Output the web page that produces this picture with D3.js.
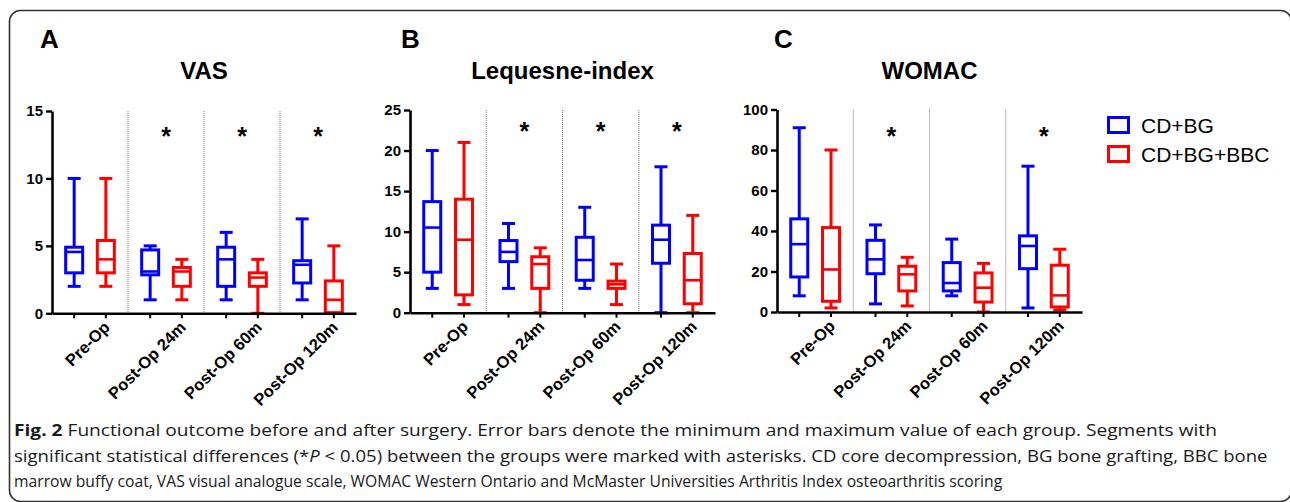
<!DOCTYPE html>
<html>
<head>
<meta charset="utf-8">
<script src="https://cdn.jsdelivr.net/npm/d3@7"></script>
<style>
  html, body { margin: 0; padding: 0; background: #fff; }
  svg { display: block; }
</style>
</head>
<body>
<svg id="chart" width="1290" height="502"></svg>
<script>
// ---------------- DATA ----------------
const categories = ["Pre-Op", "Post-Op 24m", "Post-Op 60m", "Post-Op 120m"];
const groups = ["CD+BG", "CD+BG+BBC"];
// each entry: [min, q1, median, q3, max]
const vasBlue = [[2, 3, 4.55, 4.9, 10], [1, 2.85, 3.1, 4.7, 5], [1, 2, 4, 4.9, 6], [1, 2.25, 3.6, 3.9, 7]];
const vasRed = [[2, 3, 4, 5.4, 10], [1, 2, 3.1, 3.4, 4], [0, 2, 2.65, 3, 4], [0, 0.05, 1, 2.4, 5]];
const lequesneBlue = [[3, 5, 10.5, 13.7, 20], [3, 6.3, 7.5, 8.9, 11], [3, 4, 6.5, 9.3, 13], [0, 6.1, 9, 10.8, 18]];
const lequesneRed = [[1, 2.2, 9, 14, 21], [0, 3, 6, 6.9, 8], [1, 3, 3.5, 3.9, 6], [0, 1.1, 4, 7.3, 12]];
const womacBlue = [[8, 17.3, 33.5, 46, 91], [4, 18.9, 26, 35.4, 43], [8, 10.4, 14.3, 24.4, 36], [2, 21.4, 32.6, 37.6, 72]];
const womacRed = [[2, 5.3, 21, 41.7, 80], [3, 10.4, 18.6, 22.6, 27], [0, 4.9, 12, 19.3, 24], [1, 2.5, 8.2, 23.1, 31]];
const vasTicks = [0, 5, 10, 15];
const lequesneTicks = [0, 5, 10, 15, 20, 25];
const womacTicks = [0, 20, 40, 60, 80, 100];
// significance markers per category and the level at which they are drawn
const vasStars = [false, true, true, true];
const lequesneStars = [false, true, true, true];
const womacStars = [false, true, false, true];
const vasStarLevel = 13.5;
const lequesneStarLevel = 23;
const womacStarLevel = 89.5;
const panelLetters = ["A", "B", "C"];
const panelTitles = ["VAS", "Lequesne-index", "WOMAC"];

// ---------------- LAYOUT / STYLE ----------------
const colors = { "CD+BG": "#0000ff", "CD+BG+BBC": "#ff0000" };
const FONT = "'Liberation Sans', Arial, Helvetica, sans-serif";
const panels = [
  { letter: panelLetters[0], title: panelTitles[0], blue: vasBlue, red: vasRed, ticks: vasTicks, stars: vasStars, starLevel: vasStarLevel,
    x0: 52, x1: 356, yTop: 111, yBot: 313.3, letterX: 40 },
  { letter: panelLetters[1], title: panelTitles[1], blue: lequesneBlue, red: lequesneRed, ticks: lequesneTicks, stars: lequesneStars, starLevel: lequesneStarLevel,
    x0: 410, x1: 715, yTop: 110, yBot: 312.7, letterX: 401 },
  { letter: panelLetters[2], title: panelTitles[2], blue: womacBlue, red: womacRed, ticks: womacTicks, stars: womacStars, starLevel: womacStarLevel,
    x0: 777, x1: 1082, yTop: 109.5, yBot: 312, letterX: 774 }
];

const svg = d3.select("#chart");

// frame
svg.append("rect")
  .attr("x", 9.5).attr("y", 10.5)
  .attr("width", 1282).attr("height", 491)
  .attr("rx", 11).attr("ry", 11)
  .attr("fill", "none").attr("stroke", "#333").attr("stroke-width", 1.6);

const boxW = 17, capW = 13, sw = 3;

panels.forEach(p => {
  const g = svg.append("g");
  const x = d3.scaleBand().domain(categories).range([p.x0, p.x1]).padding(0);
  const xg = d3.scalePoint().domain(groups).range([0, x.bandwidth()]).padding(0.7);
  const y = d3.scaleLinear().domain([0, d3.max(p.ticks)]).range([p.yBot, p.yTop]);

  // panel letter & title
  g.append("text").attr("x", p.letterX).attr("y", 48)
    .attr("font-family", FONT).attr("font-weight", "bold").attr("font-size", 26)
    .text(p.letter);
  g.append("text").attr("x", (p.x0 + p.x1) / 2).attr("y", 79)
    .attr("text-anchor", "middle")
    .attr("font-family", FONT).attr("font-weight", "bold").attr("font-size", 24)
    .text(p.title);

  // dotted dividers
  g.selectAll("line.div").data(categories.slice(1)).join("line")
    .attr("x1", d => x(d)).attr("x2", d => x(d))
    .attr("y1", y(d3.max(p.ticks))).attr("y2", p.yBot)
    .attr("stroke", "#777").attr("stroke-width", 1).attr("stroke-dasharray", "1,1");

  // boxes
  const series = [{ key: groups[0], vals: p.blue }, { key: groups[1], vals: p.red }];
  series.forEach(s => {
    const col = colors[s.key];
    const bg = g.append("g").attr("stroke", col).attr("fill", "none").attr("stroke-width", sw);
    const items = s.vals.map((v, i) => ({ cat: categories[i], v }));
    const cx = d => x(d.cat) + xg(s.key);
    bg.selectAll("line.wlo").data(items).join("line")
      .attr("x1", cx).attr("x2", cx).attr("y1", d => y(d.v[0])).attr("y2", d => y(d.v[1]));
    bg.selectAll("line.whi").data(items).join("line")
      .attr("x1", cx).attr("x2", cx).attr("y1", d => y(d.v[3])).attr("y2", d => y(d.v[4]));
    bg.selectAll("line.cmin").data(items).join("line")
      .attr("x1", d => cx(d) - capW / 2).attr("x2", d => cx(d) + capW / 2)
      .attr("y1", d => y(d.v[0])).attr("y2", d => y(d.v[0]));
    bg.selectAll("line.cmax").data(items).join("line")
      .attr("x1", d => cx(d) - capW / 2).attr("x2", d => cx(d) + capW / 2)
      .attr("y1", d => y(d.v[4])).attr("y2", d => y(d.v[4]));
    bg.selectAll("rect.box").data(items).join("rect")
      .attr("x", d => cx(d) - boxW / 2).attr("width", boxW)
      .attr("y", d => y(d.v[3])).attr("height", d => y(d.v[1]) - y(d.v[3]))
      .attr("fill", "#fff");
    bg.selectAll("line.med").data(items).join("line")
      .attr("x1", d => cx(d) - boxW / 2).attr("x2", d => cx(d) + boxW / 2)
      .attr("y1", d => y(d.v[2])).attr("y2", d => y(d.v[2]))
      .attr("stroke-width", 2.6);
    g.selectAll(null).data(items).join("line")
      .attr("x1", cx).attr("x2", cx).attr("y1", p.yBot).attr("y2", p.yBot + 5)
      .attr("stroke", "#000").attr("stroke-width", 2);
  });

  // y axis
  const ya = g.append("g").attr("transform", `translate(${p.x0},0)`)
    .call(d3.axisLeft(y).tickValues(p.ticks).tickSize(6).tickSizeOuter(0).tickPadding(3));
  ya.select(".domain").attr("stroke", "#000").attr("stroke-width", 2.6);
  ya.selectAll(".tick line").attr("stroke", "#000").attr("stroke-width", 2.4);
  ya.selectAll(".tick text").attr("font-family", FONT).attr("font-weight", "bold")
    .attr("font-size", 15).attr("fill", "#000");

  // x axis
  const xa = g.append("g").attr("transform", `translate(0,${p.yBot})`)
    .call(d3.axisBottom(x).tickSize(0).tickSizeOuter(0));
  xa.select(".domain").attr("stroke", "#000").attr("stroke-width", 2.6);
  xa.selectAll(".tick text")
    .attr("x", 0).attr("y", 0).attr("dy", null)
    .attr("text-anchor", "end")
    .attr("transform", "translate(21,15) rotate(-45)")
    .attr("font-family", FONT).attr("font-weight", "bold").attr("font-size", 16.5).attr("fill", "#000");

  // asterisks
  g.selectAll("text.star").data(categories.filter((c, i) => p.stars[i])).join("text")
    .attr("x", d => x(d) + x.bandwidth() / 2)
    .attr("y", y(p.starLevel) + 14)
    .attr("text-anchor", "middle")
    .attr("font-family", FONT).attr("font-weight", "bold").attr("font-size", 25)
    .text("*");
});

// legend
const leg = svg.append("g");
groups.forEach((grp, i) => {
  const yy = 117.5 + i * 29;
  leg.append("rect").attr("x", 1108.5).attr("y", yy).attr("width", 20).attr("height", 15)
    .attr("fill", "none").attr("stroke", colors[grp]).attr("stroke-width", 3);
  leg.append("text").attr("x", 1141).attr("y", yy + 15)
    .attr("font-family", FONT).attr("font-size", 21).attr("fill", "#000")
    .text(grp);
});

// caption
const cap = svg.append("g").attr("fill", "#1a1a1a")
  .attr("font-family", "'Open Sans', 'Noto Sans', sans-serif").attr("font-size", 16.5);
const mkLine = (yy) => cap.append("g").attr("transform", `translate(14,${yy})`)
  .append("text").attr("x", 0).attr("y", 0);
const l1 = mkLine(436);
l1.append("tspan").attr("font-weight", "bold").text("Fig. 2");
l1.append("tspan").text(" Functional outcome before and after surgery. Error bars denote the minimum and maximum value of each group. Segments with");
const l2 = mkLine(461.5);
l2.append("tspan").text("significant statistical differences (*");
l2.append("tspan").attr("font-style", "italic").text("P");
l2.append("tspan").text(" < 0.05) between the groups were marked with asterisks. CD core decompression, BG bone grafting, BBC bone");
const l3 = mkLine(487);
l3.append("tspan").text("marrow buffy coat, VAS visual analogue scale, WOMAC Western Ontario and McMaster Universities Arthritis Index osteoarthritis scoring");
// horizontally fit each line to the extent it has in the figure
[[l1, 1204], [l2, 1254], [l3, 989]].forEach(([l, target]) => {
  const w = l.node().getComputedTextLength();
  l.attr("transform", `scale(${target / w},1)`);
});
</script>
</body>
</html>
